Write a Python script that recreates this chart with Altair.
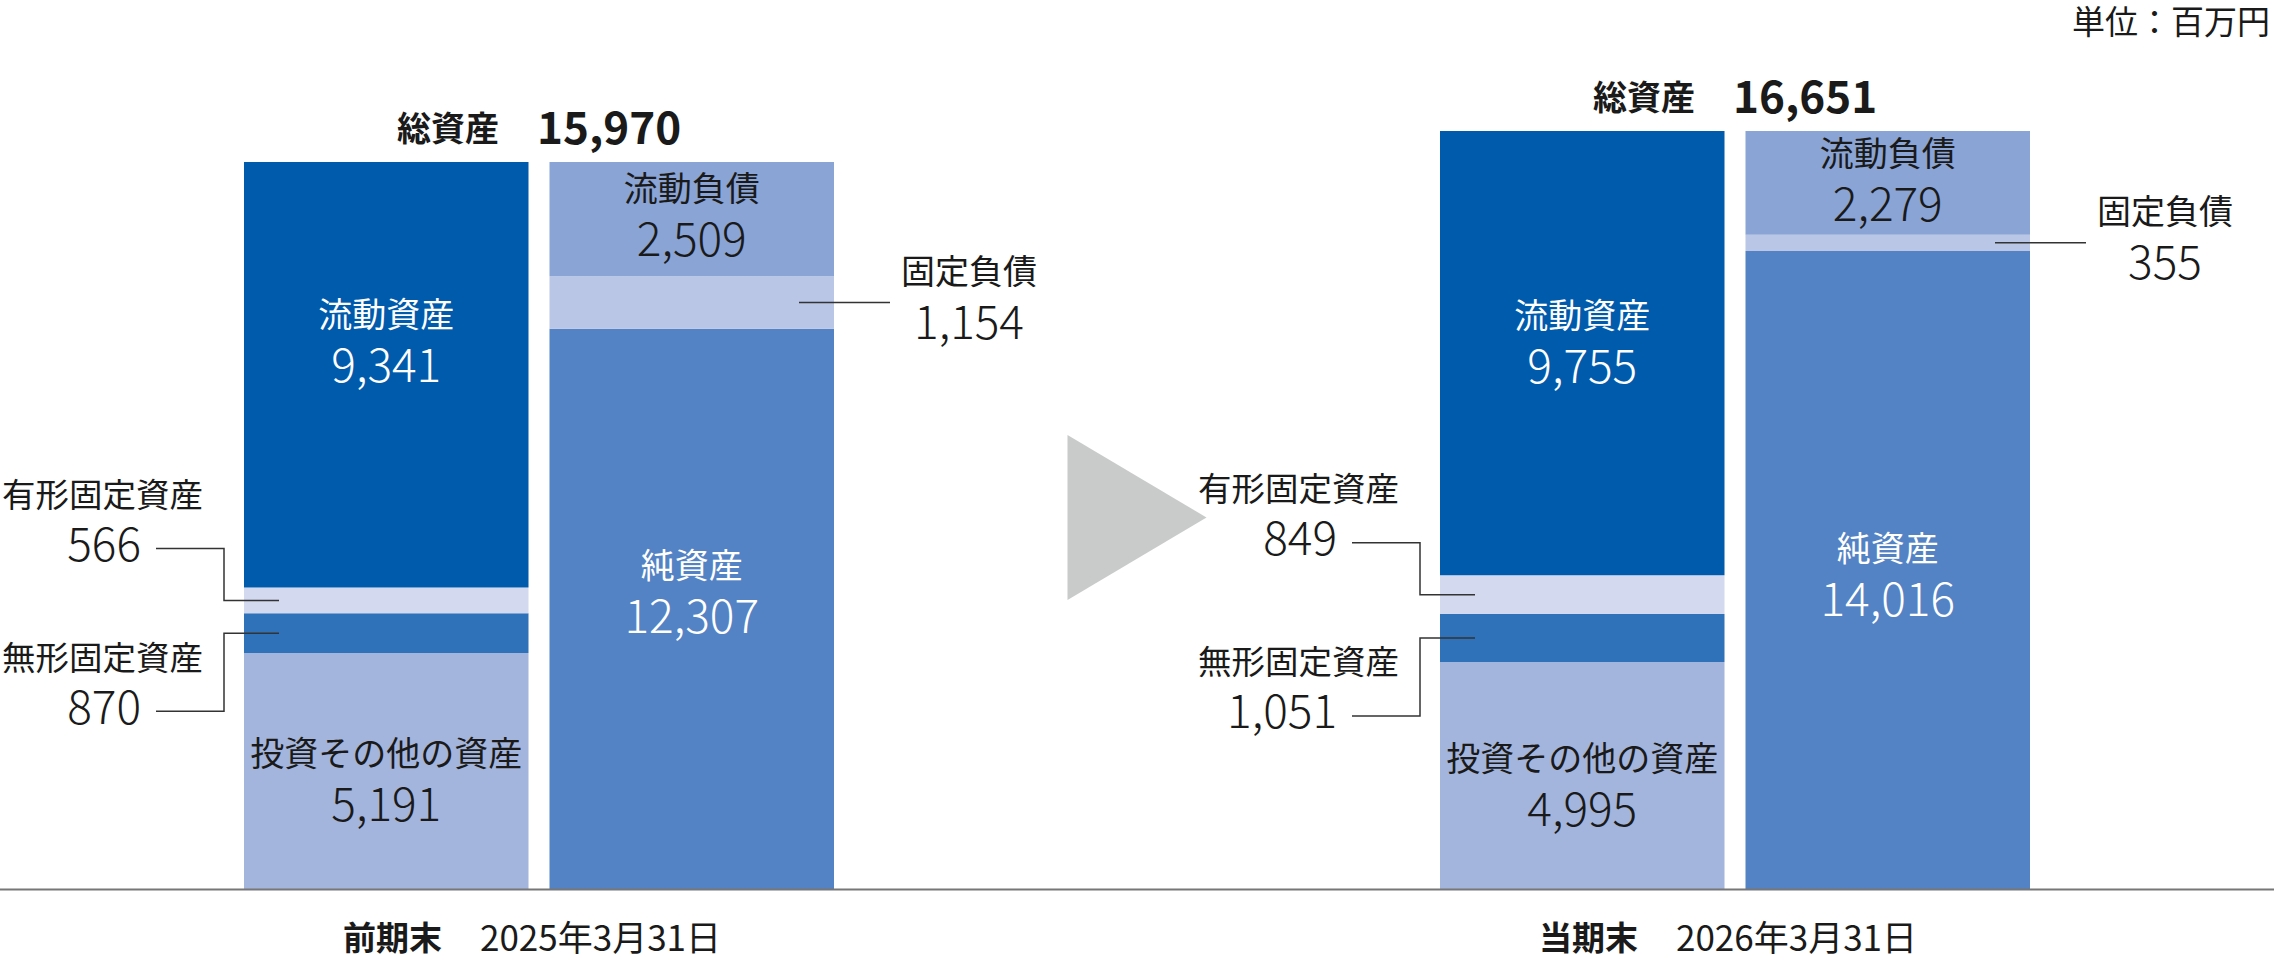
import altair as alt
import pandas as pd

# ---------------- data ----------------
periods = ["前期末", "当期末"]
dates = ["2025年3月31日", "2026年3月31日"]
totals = [15970, 16651]
total_label = "総資産"
unit_label = "単位：百万円"

asset_items = ["投資その他の資産", "無形固定資産", "有形固定資産", "流動資産"]   # bottom -> top
assets_prev = [5191, 870, 566, 9341]
assets_curr = [4995, 1051, 849, 9755]

liab_items = ["純資産", "固定負債", "流動負債"]                             # bottom -> top
liab_prev = [12307, 1154, 2509]
liab_curr = [14016, 355, 2279]

# ---------------- styles / layout ----------------
SEG_COLORS = {
    "流動資産": "#005BAC", "有形固定資産": "#D3D9EE", "無形固定資産": "#2F72BA",
    "投資その他の資産": "#A3B5DC", "流動負債": "#89A4D5", "固定負債": "#B9C6E6",
    "純資産": "#5383C4",
}
WHITE_TEXT = {"流動資産", "純資産"}
DARK = "#1a1a1a"
FONT = "Noto Sans CJK JP"

W, H = 2274, 965
PX = 0.04556            # px per 百万円
BASE_PX = 889.5         # baseline position in px from top
Y_MAX = BASE_PX / PX
Y_MIN = -(H - BASE_PX) / PX
GROUP_LEFT = [244, 1440]
BAR_W = 284.5
BAR_GAP = 21

PLACEMENT = {"流動資産": "inside", "投資その他の資産": "inside", "流動負債": "inside",
             "純資産": "inside", "固定負債": "right", "有形固定資産": "left", "無形固定資産": "left"}
INSIDE_SHIFT = {"流動資産": [-32, -10], "投資その他の資産": [10, 11],
                "流動負債": [-3, -1], "純資産": [-16, 6]}
LEFT_VALUE_SHIFT = {"有形固定資産": -53.5, "無形固定資産": 76.5}


def u(dpx):
    """convert a downward pixel offset to data units"""
    return -dpx / PX


def px_to_y(py):
    return (BASE_PX - py) / PX


xs = alt.Scale(domain=[0, W], range=[0, W], nice=False, zero=False)
ys = alt.Scale(domain=[Y_MIN, Y_MAX], nice=False, zero=False)

# ---------------- segments ----------------
rows = []
for p in range(2):
    a_vals = [assets_prev, assets_curr][p]
    l_vals = [liab_prev, liab_curr][p]
    for side, items, vals in [(0, asset_items, a_vals), (1, liab_items, l_vals)]:
        x0 = GROUP_LEFT[p] + side * (BAR_W + BAR_GAP)
        cum = 0
        for it, v in zip(items, vals):
            rows.append(dict(p=p, side=side, item=it, value=v, y0=cum, y1=cum + v,
                             x0=x0, x1=x0 + BAR_W, color=SEG_COLORS[it]))
            cum += v
seg = pd.DataFrame(rows)

bars = alt.Chart(seg).mark_rect().encode(
    x=alt.X("x0:Q", scale=xs, axis=None), x2="x1",
    y=alt.Y("y0:Q", scale=ys, axis=None), y2="y1",
    color=alt.Color("color:N", scale=None),
)

# ---------------- labels & leaders ----------------
center_names, center_vals, left_names, left_vals = [], [], [], []
lines = []
lid = 0
for r in rows:
    mid = (r["y0"] + r["y1"]) / 2
    it = r["item"]
    pl = PLACEMENT[it]
    vtxt = f"{r['value']:,}"
    if pl == "inside":
        sh = INSIDE_SHIFT[it][r["p"]]
        col = "#ffffff" if it in WHITE_TEXT else DARK
        cx = (r["x0"] + r["x1"]) / 2
        center_names.append(dict(x=cx, y=mid + u(sh - 25.5), text=it, color=col))
        center_vals.append(dict(x=cx, y=mid + u(sh + 25.5), text=vtxt, color=col))
    elif pl == "right":
        cx = r["x1"] + 135
        center_names.append(dict(x=cx, y=mid + u(-29), text=it, color=DARK))
        center_vals.append(dict(x=cx, y=mid + u(22), text=vtxt, color=DARK))
        for k, xx in enumerate([r["x1"] - 35, r["x1"] + 56]):
            lines.append(dict(lid=lid, k=k, x=xx, y=mid))
        lid += 1
    else:
        vy = mid + u(LEFT_VALUE_SHIFT[it])
        left_vals.append(dict(x=r["x0"] - 103, y=vy, text=vtxt, color=DARK))
        left_names.append(dict(x=r["x0"] - 41, y=vy + u(-50), text=it, color=DARK))
        ly = vy + u(1.5)
        pts = [(r["x0"] - 88, ly), (r["x0"] - 20, ly), (r["x0"] - 20, mid), (r["x0"] + 35, mid)]
        for k, (xx, yy) in enumerate(pts):
            lines.append(dict(lid=lid, k=k, x=xx, y=yy))
        lid += 1

tot_names, tot_vals, per_names, per_dates = [], [], [], []
for p in range(2):
    gc = GROUP_LEFT[p] + BAR_W + BAR_GAP / 2
    ty = totals[p] + u(-31)
    tot_names.append(dict(x=gc - 40, y=ty, text=total_label, color=DARK))
    tot_vals.append(dict(x=gc - 2, y=ty, text=f"{totals[p]:,}", color=DARK))
    per_names.append(dict(x=gc - 97, y=px_to_y(940), text=periods[p], color=DARK))
    per_dates.append(dict(x=gc - 59, y=px_to_y(940), text=dates[p], color=DARK))


def text_layer(recs, align, size, weight="normal"):
    return alt.Chart(pd.DataFrame(recs)).mark_text(
        align=align, baseline="middle", font=FONT, fontSize=size, fontWeight=weight
    ).encode(
        x=alt.X("x:Q", scale=xs, axis=None),
        y=alt.Y("y:Q", scale=ys, axis=None),
        text="text:N",
        color=alt.Color("color:N", scale=None),
    )


leaders = alt.Chart(pd.DataFrame(lines)).mark_line(color="#333333", strokeWidth=1.5).encode(
    x=alt.X("x:Q", scale=xs, axis=None),
    y=alt.Y("y:Q", scale=ys, axis=None),
    detail="lid:N", order="k:Q",
)

baseline = alt.Chart(pd.DataFrame({"y": [0]})).mark_rule(color="#777777", strokeWidth=2).encode(
    y=alt.Y("y:Q", scale=ys, axis=None), x=alt.value(0), x2=alt.value(W)
)

arrow_x = (GROUP_LEFT[0] + 2 * BAR_W + BAR_GAP + GROUP_LEFT[1]) / 2
arrow = alt.Chart(pd.DataFrame({"x": [arrow_x], "y": [px_to_y(517.5)]})).mark_point(
    shape="M -1 -1.187 L 1 0 L -1 1.187 Z", size=19321, filled=True,
    color="#C9CACA", opacity=1, strokeWidth=0
).encode(x=alt.X("x:Q", scale=xs, axis=None), y=alt.Y("y:Q", scale=ys, axis=None))

unit = text_layer([dict(x=2270, y=px_to_y(24), text=unit_label, color=DARK)], "right", 33)

chart = alt.layer(
    bars, baseline, arrow, leaders,
    text_layer(center_names, "center", 34),
    text_layer(center_vals, "center", 46, 300),
    text_layer(left_names, "right", 33.5),
    text_layer(left_vals, "right", 46, 300),
    text_layer(tot_names, "right", 34, "bold"),
    text_layer(tot_vals, "left", 44, "bold"),
    text_layer(per_names, "right", 33, "bold"),
    text_layer(per_dates, "left", 35),
    unit,
).properties(
    width=W, height=H, padding=0, background="white",
    autosize=alt.AutoSizeParams(type="none"),
).configure_view(stroke=None)

chart.save("out.html", embed_options={"renderer": "svg", "actions": False})
